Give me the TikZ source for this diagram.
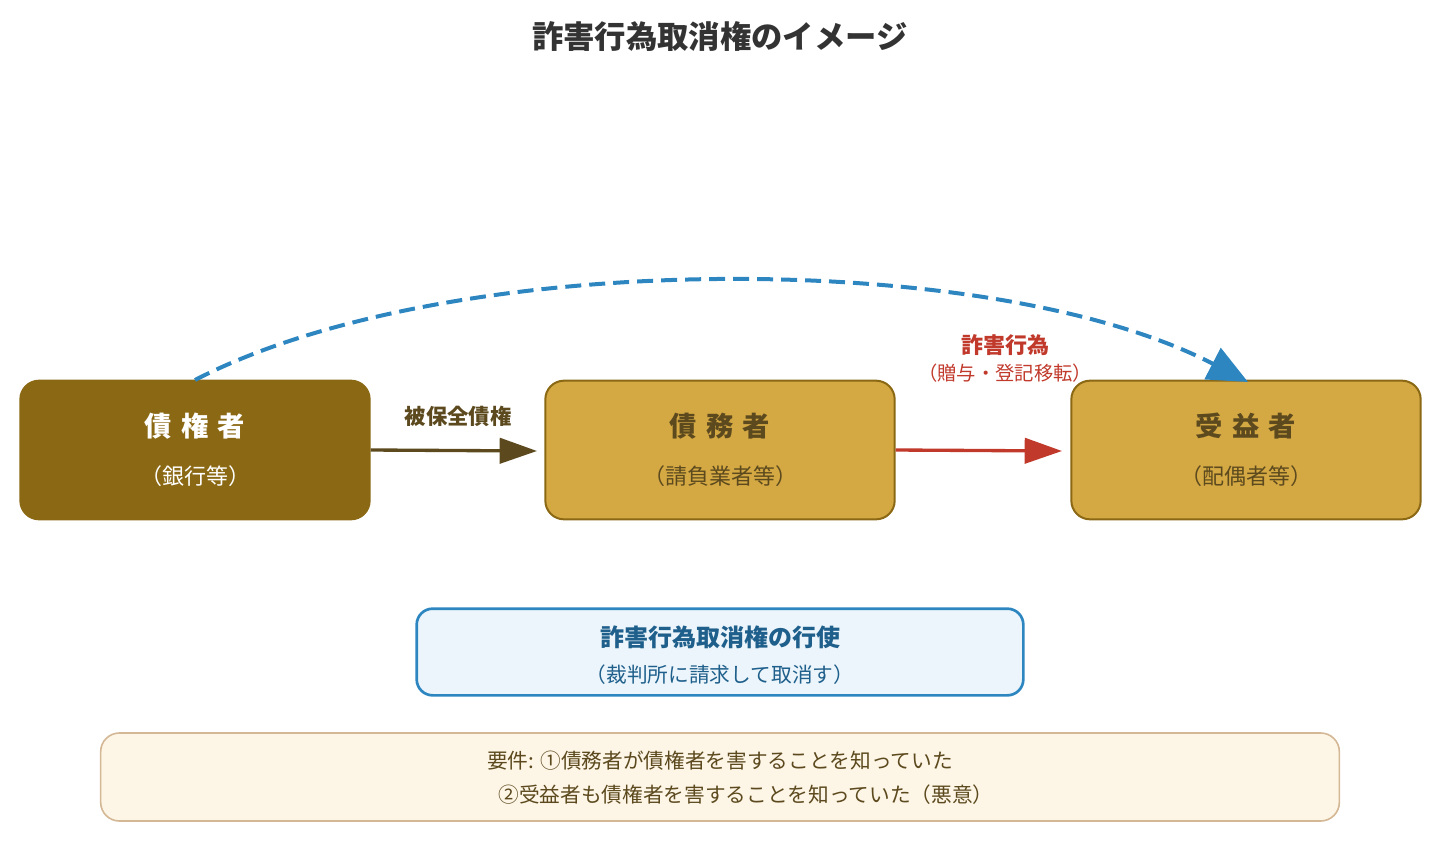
\documentclass[tikz,border=0pt]{standalone}
\usepackage{fontspec}
\setmainfont{Noto Sans CJK JP}
\usetikzlibrary{positioning,arrows.meta}
\definecolor{darkgold}{HTML}{8B6914}
\definecolor{midgold}{HTML}{D4A843}
\definecolor{textbrown}{HTML}{5C4A1E}
\definecolor{bluemain}{HTML}{2E86C1}
\definecolor{bluetext}{HTML}{1F5F8B}
\definecolor{redmain}{HTML}{C0392B}
\definecolor{bluefill}{HTML}{EBF5FB}
\definecolor{creamfill}{HTML}{FDF5E6}
\definecolor{creamline}{HTML}{D4B896}
\tikzset{>={Triangle[length=28pt,width=19pt]}}
\tikzstyle{party} = [draw=darkgold, line width=1.5pt, rounded corners=14pt, minimum width=262pt, minimum height=104pt]
\tikzstyle{partyname} = [font=\fontsize{20.5}{22}\selectfont\bfseries]
\tikzstyle{partysub} = [font=\fontsize{16.5}{19}\selectfont]
\begin{document}
\begin{tikzpicture}[x=0.75pt,y=-0.75pt]
    \useasboundingbox (0,0) rectangle (1444,842);
    \node [font=\fontsize{23.5}{26}\selectfont\bfseries, text=black!80](title) at (720,37) {詐害行為取消権のイメージ};
    % parties
    \node [party, fill=darkgold](cr) at (195,450) {};
    \node [party, fill=midgold](db) at (720,450) {};
    \node [party, fill=midgold](bn) at (1246,450) {};
    \node [partyname, text=white] at (195,426) {債\,\,権\,\,者};
    \node [partysub, text=white] at (195,476) {（銀行等）};
    \node [partyname, text=textbrown] at (720,426) {債\,\,務\,\,者};
    \node [partysub, text=textbrown] at (720,476) {（請負業者等）};
    \node [partyname, text=textbrown] at (1246,426) {受\,\,益\,\,者};
    \node [partysub, text=textbrown] at (1246,476) {（配偶者等）};
    % arrows
    \coordinate (a1) at (537,451);
    \coordinate (a2) at (1062,451);
    \draw [->, textbrown, line width=2.5pt] (cr.east) -- (a1);
    \node [font=\fontsize{16}{18}\selectfont\bfseries, text=textbrown](k) at (458,416) {被保全債権};
    \draw [->, redmain, line width=2.5pt] (db.east) -- (a2);
    \node [font=\fontsize{16.5}{18}\selectfont\bfseries, text=redmain](s) at (1005,345) {詐害行為};
    \node [font=\fontsize{14.5}{16}\selectfont, text=redmain](s2) at (1005,373) {（贈与・登記移転）};
    \coordinate (c0) at (195,380);
    \coordinate (c1) at (1248,382);
    \draw [-{Triangle[length=30pt,width=26pt]}, bluemain, line width=3pt, dash pattern=on 12pt off 6pt] (c0) .. controls (450,248) and (990,248) .. (c1);
    % exercise
    \node [draw=bluemain, fill=bluefill, line width=2pt, rounded corners=12pt, minimum width=455pt, minimum height=65pt](ex) at (720,652) {};
    \node [font=\fontsize{18}{20}\selectfont\bfseries, text=bluetext] at (720,637) {詐害行為取消権の行使};
    \node [font=\fontsize{15.5}{17}\selectfont, text=bluetext] at (720,675) {（裁判所に請求して取消す）};
    % requirements
    \node [draw=creamline, fill=creamfill, line width=1.2pt, rounded corners=14pt, minimum width=929pt, minimum height=66pt](req) at (720,777) {};
    \node [font=\fontsize{15.5}{17}\selectfont, text=textbrown] at (720,761) {要件: ①債務者が債権者を害することを知っていた};
    \node [font=\fontsize{15.5}{17}\selectfont, text=textbrown] at (746,795) {②受益者も債権者を害することを知っていた（悪意）};
\end{tikzpicture}
\end{document}
